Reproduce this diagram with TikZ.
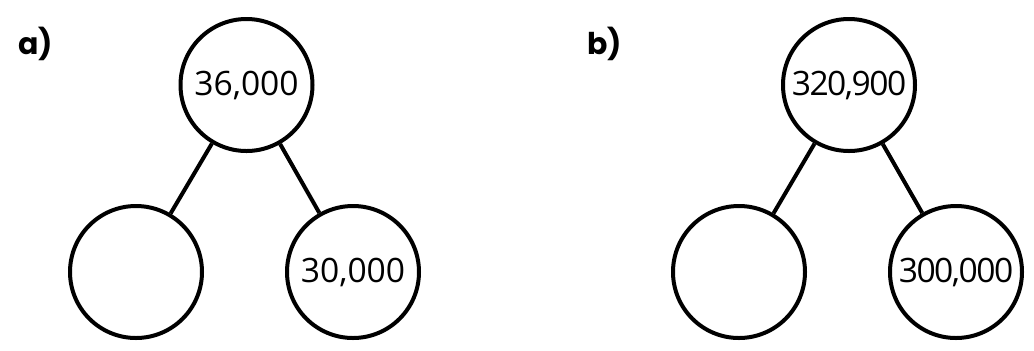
\documentclass[tikz,border=0pt]{standalone}
\usepackage{fontspec}
\setmainfont{Open Sans}
\newfontfamily\tagfont{Poppins}
\newfontfamily\tightfont[LetterSpace=-4.5]{Open Sans}

\begin{document}
\begin{tikzpicture}[x=0.5pt,y=-0.5pt, pnode/.style={draw,circle,line width=2pt,minimum size=66pt,inner sep=0pt,font=\fontsize{16.8}{18}\selectfont}, tag/.style={anchor=base west,inner sep=0pt,font=\tagfont\bfseries\fontsize{15}{18}\selectfont}]
    \useasboundingbox (0,0) rectangle (1034,350);
    % a)
    \node[tag] (ta) at (18,54) {a)};
    \node[pnode] (a0) at (246.5,85) {36,000};
    \node[pnode] (a1) at (136,272) {};
    \node[pnode] (a2) at (353,272) {30,000};

    \draw[line width=2pt] (a0) -- (a1);
    \draw[line width=2pt] (a0) -- (a2);

    % b)
    \node[tag] (tb) at (587,54) {b)};
    \node[pnode, font=\tightfont\fontsize{16.8}{18}\selectfont] (b0) at (849,85) {320,900};
    \node[pnode] (b1) at (739,272) {};
    \node[pnode, font=\tightfont\fontsize{16.8}{18}\selectfont] (b2) at (956,272) {300,000};

    \draw[line width=2pt] (b0) -- (b1);
    \draw[line width=2pt] (b0) -- (b2);
\end{tikzpicture}
\end{document}
